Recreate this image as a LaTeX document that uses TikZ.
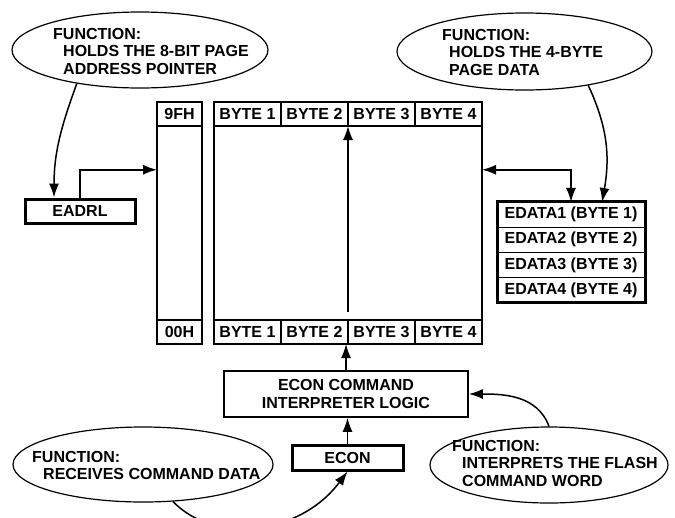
\documentclass[tikz,border=0pt]{standalone}
\usepackage{fontspec}
\setmainfont{Liberation Sans}
\usepackage{tikz}
\usetikzlibrary{arrows.meta,positioning,calc,shapes.geometric}
\tikzset {
	cell/.style={rectangle, draw, line width=1.2pt, minimum width=67pt, minimum height=24pt, inner sep=0pt, outer sep=0pt},
	addr/.style={cell, minimum width=45pt},
	page/.style={rectangle, draw, line width=1.8pt, minimum height=242pt, outer sep=0pt},
	reg/.style={rectangle, draw, line width=3pt, minimum width=110pt, minimum height=24pt, inner sep=0pt},
	logic/.style={rectangle, draw, line width=1.6pt, align=center, inner sep=0pt},
	datarow/.style={rectangle, draw, line width=1.2pt, minimum width=148pt, minimum height=25.25pt, inner sep=0pt, outer sep=0pt},
	func/.style={ellipse, draw, line width=1.2pt, inner sep=0pt},
	functext/.style={align=left, anchor=west, inner sep=0pt},
	flow/.style={-{Latex[length=14pt,width=10pt]}, line width=1.5pt},
	dflow/.style={{Latex[length=14pt,width=10pt]}-{Latex[length=14pt,width=10pt]}, line width=1.5pt}
}

\begin{document}
\begin{tikzpicture}[x=1pt, y=-1pt, font=\fontsize{16}{17.5}\selectfont\bfseries]
	\useasboundingbox (0,0) rectangle (675,517);
	% flash page and address column
	\node[page, minimum width=268pt] (mem) at (348,223) {};
	\node[page, minimum width=45pt] (col) at (179.5,223) {};
	\node[addr, anchor=north] (hi) at (col.north) {9FH};
	\node[addr, anchor=south] (lo) at (col.south) {00H};
	\node[cell, anchor=north west] (h1) at (mem.north west) {BYTE 1};
	\node[cell, right=0pt of h1] (h2) {BYTE 2};
	\node[cell, right=0pt of h2] (h3) {BYTE 3};
	\node[cell, right=0pt of h3] (h4) {BYTE 4};
	\node[cell, anchor=south west] (b1) at (mem.south west) {BYTE 1};
	\node[cell, right=0pt of b1] (b2) {BYTE 2};
	\node[cell, right=0pt of b2] (b3) {BYTE 3};
	\node[cell, right=0pt of b3] (b4) {BYTE 4};

	% registers
	\node[reg] (eadrl) at (80,211) {EADRL};
	\node[logic, minimum width=244pt, minimum height=46pt] (cmd) at (346,394) {ECON COMMAND\\INTERPRETER LOGIC};
	\node[reg, minimum width=111pt, minimum height=25pt] (econ) at (347.5,457.5) {ECON};
	\node[datarow] (ed1) at (571,214.6) {EDATA1 (BYTE 1)};
	\node[datarow, below=0pt of ed1] (ed2) {EDATA2 (BYTE 2)};
	\node[datarow, below=0pt of ed2] (ed3) {EDATA3 (BYTE 3)};
	\node[datarow, below=0pt of ed3] (ed4) {EDATA4 (BYTE 4)};
	\draw[line width=3pt] (ed1.north west) rectangle (ed4.south east);

	% function bubbles
	\node[func, minimum width=256pt, minimum height=76pt] (fa) at (140,50) {};
	\node[functext] (fatext) at (53,51) {FUNCTION:\\\hspace*{10pt}HOLDS THE 8-BIT PAGE\\\hspace*{10pt}ADDRESS POINTER};
	\node[func, minimum width=255pt, minimum height=77pt] (fb) at (524.5,51.5) {};
	\node[functext] (fbtext) at (442,52) {FUNCTION:\\\hspace*{7pt}HOLDS THE 4-BYTE\\\hspace*{7pt}PAGE DATA};
	\node[func, minimum width=260pt, minimum height=75pt] (fc) at (143,464.5) {};
	\node[functext] (fctext) at (32,465.5) {FUNCTION:\\\hspace*{11pt}RECEIVES COMMAND DATA};
	\node[func, minimum width=238pt, minimum height=76pt] (fd) at (549,465) {};
	\node[functext] (fdtext) at (452,463) {FUNCTION:\\\hspace*{10pt}INTERPRETS THE FLASH\\\hspace*{10pt}COMMAND WORD};

	% connectors
	\draw[flow] ([yshift=8pt]b2.north east) -- (h2.south east);
	\draw[flow] (cmd.north) -- (cmd.north |- mem.south);
	\draw[flow] (econ.north) -- (econ.north |- cmd.south);
	\draw[flow] (eadrl.north) |- ($(col.north west)!0.28!(col.south west)$);
	\draw[dflow] ($(mem.north east)!0.28!(mem.south east)$) -| (ed1.north);
	\draw[flow] (fa.-152) to[out=-110, in=90] ($(eadrl.north west)!0.27!(eadrl.north east)$);
	\draw[flow] (fb.-28) to[out=-65, in=80] ($(ed1.north west)!0.71!(ed1.north east)$);
	\draw[flow] (fc.-51) .. controls (215,545) and (300,535) .. (econ.south);
	\draw[flow] (fd.north) to[out=110, in=0] (cmd.east);
\end{tikzpicture}
\end{document}
